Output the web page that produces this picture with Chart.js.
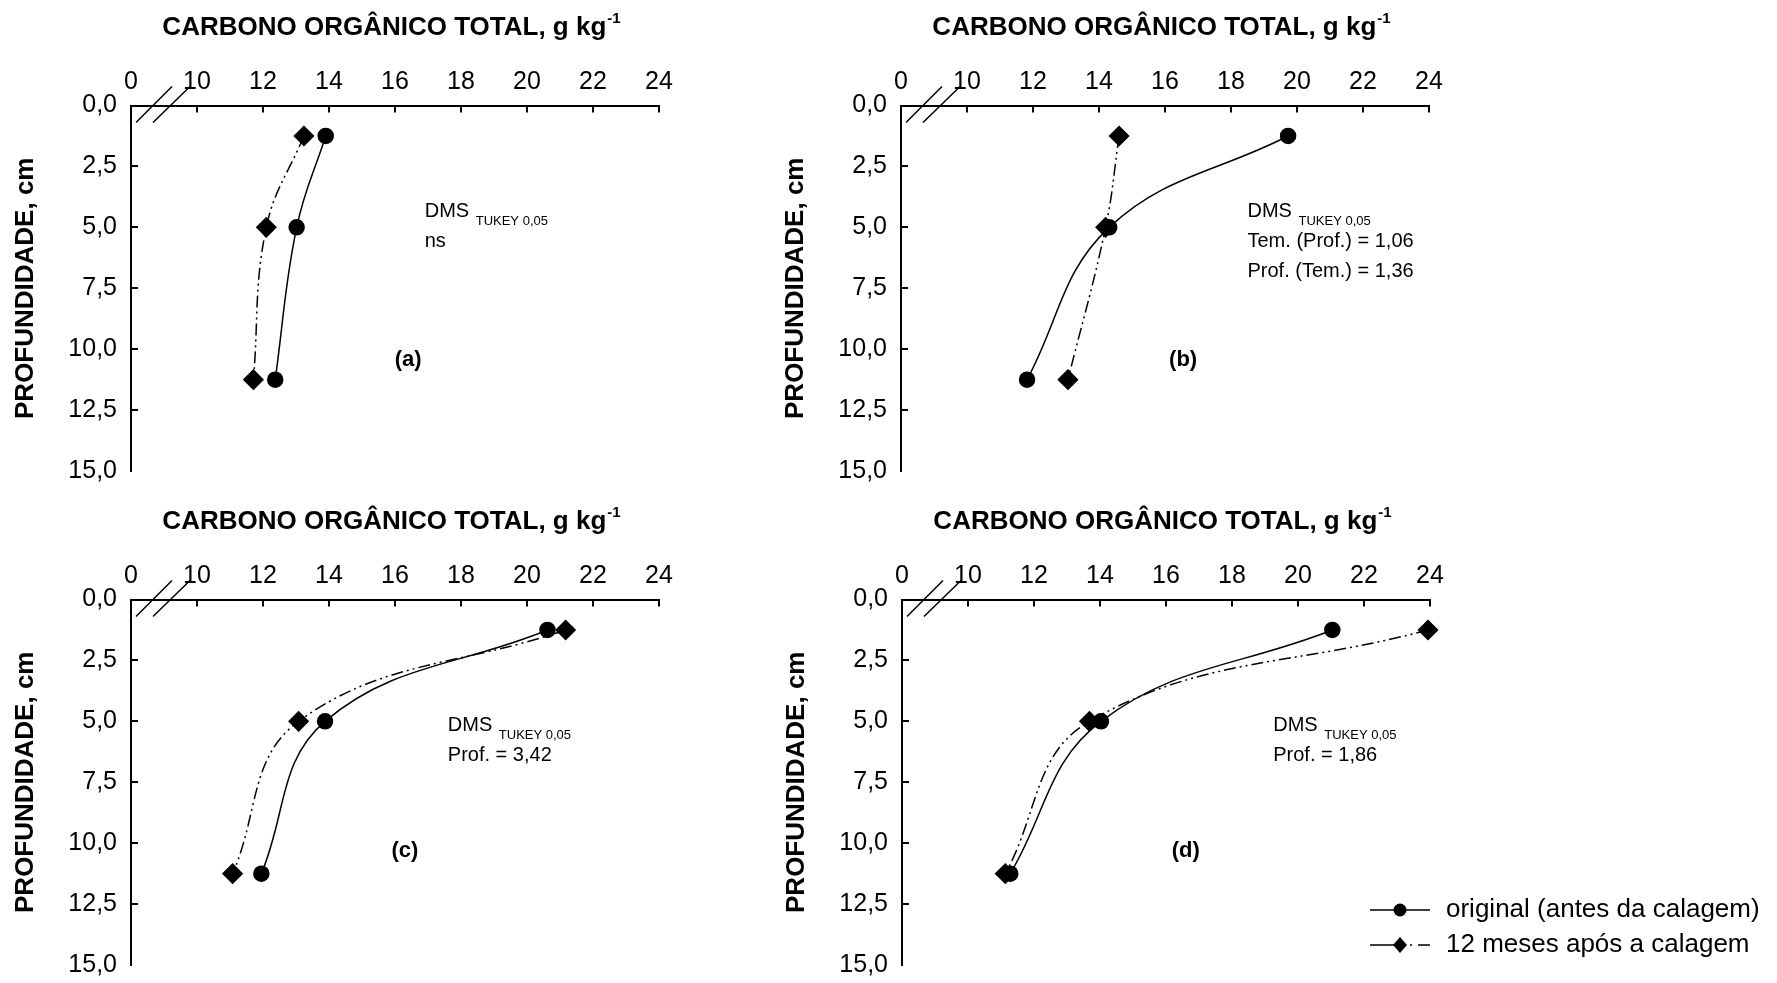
<!doctype html>
<html>
<head>
<meta charset="utf-8">
<title>Carbono orgânico total</title>
<script src="https://cdn.jsdelivr.net/npm/chart.js@4/dist/chart.umd.min.js"></script>
<style>
  html, body { margin: 0; padding: 0; background: #fff; overflow: hidden; }
  canvas { position: absolute; }
</style>
</head>
<body>
<canvas id="pa" width="888" height="500" style="left:0px;top:0px"></canvas>
<canvas id="pb" width="888" height="500" style="left:770px;top:0px"></canvas>
<canvas id="pc" width="888" height="500" style="left:0px;top:494px"></canvas>
<canvas id="pd" width="1006" height="500" style="left:771px;top:494px"></canvas>
<script>
// depth of each sample, cm
var depths = [1.25, 5.0, 11.25];

// carbono organico total, g kg-1
var originalA = [13.9, 13.02, 12.37];
var mesesA    = [13.24, 12.1, 11.71];
var originalB = [19.73, 14.31, 11.82];
var mesesB    = [14.61, 14.2, 13.06];
var originalC = [20.62, 13.88, 11.95];
var mesesC    = [21.17, 13.08, 11.08];
var originalD = [21.04, 14.03, 11.28];
var mesesD    = [23.94, 13.68, 11.13];

var seriesNames = ['original (antes da calagem)', '12 meses após a calagem'];
var xTickValues = [8, 10, 12, 14, 16, 18, 20, 22, 24]; // 8 is shown as the broken "0"
var titleText = 'CARBONO ORGÂNICO TOTAL, g kg';
var yTitle = 'PROFUNDIDADE, cm';

var notesA = ['ns'];
var notesB = ['Tem. (Prof.) = 1,06', 'Prof. (Tem.) = 1,36'];
var notesC = ['Prof. = 3,42'];
var notesD = ['Prof. = 1,86'];

var FONT = '"Liberation Sans", Arial, Helvetica, sans-serif';

function pts(xs) {
    return depths.map(function(d, i) { return {x: xs[i], y: d}; });
}

var decor = {
    id: 'decor',
    afterDraw: function(chart) {
        var ctx = chart.ctx;
        var a = chart.chartArea;
        var xs = chart.scales.x, ys = chart.scales.y;
        var cfg = chart.options.plugins.decor;
        ctx.save();
        ctx.strokeStyle = '#000';
        ctx.fillStyle = '#000';

        // inward tick marks
        ctx.lineWidth = 2;
        ctx.beginPath();
        xs.ticks.forEach(function(t, i) {
            if (i === 0) return;
            var px = Math.round(xs.getPixelForValue(t.value));
            ctx.moveTo(px, a.top); ctx.lineTo(px, a.top + 7);
        });
        ys.ticks.forEach(function(t, i) {
            if (i === 0) return;
            var py = Math.round(ys.getPixelForValue(t.value));
            ctx.moveTo(a.left, py); ctx.lineTo(a.left + 7, py);
        });
        ctx.stroke();

        // axis break
        ctx.lineWidth = 1.5;
        ctx.beginPath();
        ctx.moveTo(a.left + 5, a.top + 17); ctx.lineTo(a.left + 41, a.top - 19);
        ctx.moveTo(a.left + 22, a.top + 17); ctx.lineTo(a.left + 59, a.top - 19);
        ctx.stroke();

        // top title with superscript
        ctx.font = 'bold 26px ' + FONT;
        var w1 = ctx.measureText(titleText).width;
        ctx.font = 'bold 15px ' + FONT;
        var w2 = ctx.measureText('-1').width;
        var tx = (a.left + a.right) / 2 - 4 - (w1 + w2) / 2;
        var ty = a.top - 78;
        ctx.textBaseline = 'middle';
        ctx.textAlign = 'left';
        ctx.font = 'bold 26px ' + FONT;
        ctx.fillText(titleText, tx, ty);
        ctx.font = 'bold 15px ' + FONT;
        ctx.fillText('-1', tx + w1 + 1, ty - 9);

        // y axis title
        ctx.save();
        ctx.translate(a.left - 105, (a.top + a.bottom) / 2);
        ctx.rotate(-Math.PI / 2);
        ctx.textAlign = 'center';
        ctx.font = 'bold 26px ' + FONT;
        ctx.fillText(yTitle, 0, 0);
        ctx.restore();

        // DMS notes
        var nx = xs.getPixelForValue(cfg.noteAt[0]);
        var ny = ys.getPixelForValue(cfg.noteAt[1]);
        ctx.textAlign = 'left';
        ctx.font = '20px ' + FONT;
        ctx.fillText('DMS', nx, ny);
        var wd = ctx.measureText('DMS ').width;
        ctx.font = '13px ' + FONT;
        ctx.fillText('TUKEY 0,05', nx + wd + 1, ny + 10);
        ctx.font = '20px ' + FONT;
        cfg.notes.forEach(function(s, i) {
            ctx.fillText(s, nx, ny + 30 * (i + 1));
        });

        // panel letter
        ctx.textAlign = 'center';
        ctx.font = 'bold 22px ' + FONT;
        ctx.fillText(cfg.letter, xs.getPixelForValue(cfg.letterAt[0]), ys.getPixelForValue(cfg.letterAt[1]));

        // legend
        if (cfg.legend) {
            var lx = a.right;
            var ly1 = a.bottom - 55, ly2 = a.bottom - 20;
            ctx.lineWidth = 1.5;
            ctx.beginPath();
            ctx.moveTo(lx - 60, ly1); ctx.lineTo(lx, ly1);
            ctx.moveTo(lx - 60, ly2); ctx.lineTo(lx - 30, ly2);
            ctx.moveTo(lx - 20, ly2); ctx.lineTo(lx - 18, ly2);
            ctx.moveTo(lx - 12, ly2); ctx.lineTo(lx, ly2);
            ctx.stroke();
            ctx.beginPath();
            ctx.arc(lx - 30, ly1, 6.5, 0, Math.PI * 2);
            ctx.fill();
            ctx.beginPath();
            ctx.moveTo(lx - 30, ly2 - 8); ctx.lineTo(lx - 23, ly2);
            ctx.lineTo(lx - 30, ly2 + 8); ctx.lineTo(lx - 37, ly2);
            ctx.closePath();
            ctx.fill();
            ctx.textAlign = 'left';
            ctx.font = '26px ' + FONT;
            ctx.fillText(chart.data.datasets[0].label, lx + 16, ly1);
            ctx.fillText(chart.data.datasets[1].label, lx + 16, ly2);
        }
        ctx.restore();
    }
};

function makePanel(id, orig, meses, letter, notes, noteAt, letterAt, legend) {
    var canvas = document.getElementById(id);
    var tickFont = {size: 25, family: FONT};
    return new Chart(canvas.getContext('2d'), {
        type: 'line',
        data: {
            datasets: [
                {
                    label: seriesNames[0],
                    data: pts(orig),
                    borderColor: '#000',
                    borderWidth: 1.5,
                    pointStyle: 'circle',
                    pointRadius: 7.5,
                    pointBackgroundColor: '#000',
                    pointBorderColor: '#000',
                    tension: 0.4,
                    clip: false,
                    fill: false
                },
                {
                    label: seriesNames[1],
                    data: pts(meses),
                    borderColor: '#000',
                    borderWidth: 1.5,
                    borderDash: [12, 4, 2, 4, 2, 4],
                    pointStyle: 'rectRot',
                    pointRadius: 9.5,
                    pointBackgroundColor: '#000',
                    pointBorderColor: '#000',
                    tension: 0.4,
                    clip: false,
                    fill: false
                }
            ]
        },
        options: {
            responsive: false,
            animation: false,
            events: [],
            indexAxis: 'y',
            layout: {
                autoPadding: false,
                padding: {left: 0, top: 0, right: canvas.width - 659, bottom: canvas.height - 477}
            },
            scales: {
                x: {
                    type: 'linear',
                    position: 'top',
                    min: 8,
                    max: 24,
                    afterBuildTicks: function(s) {
                        s.ticks = xTickValues.map(function(v) { return {value: v}; });
                    },
                    afterFit: function(s) { s.height = 105.5; },
                    ticks: {
                        color: '#000',
                        font: tickFont,
                        padding: 8,
                        maxRotation: 0,
                        autoSkip: false,
                        callback: function(v) { return v === 8 ? '0' : String(v); }
                    },
                    grid: {display: false, drawTicks: false},
                    border: {display: true, color: '#000', width: 2}
                },
                y: {
                    type: 'linear',
                    position: 'left',
                    reverse: true,
                    min: 0,
                    max: 15,
                    afterFit: function(s) { s.width = 131; },
                    ticks: {
                        color: '#000',
                        font: tickFont,
                        stepSize: 2.5,
                        padding: 14,
                        autoSkip: false,
                        callback: function(v) { return v.toFixed(1).replace('.', ','); }
                    },
                    grid: {display: false, drawTicks: false},
                    border: {display: true, color: '#000', width: 2}
                }
            },
            plugins: {
                legend: {display: false},
                tooltip: {enabled: false},
                decor: {
                    letter: letter,
                    notes: notes,
                    noteAt: noteAt,
                    letterAt: letterAt,
                    legend: legend
                }
            }
        },
        plugins: [decor]
    });
}

makePanel('pa', originalA, mesesA, '(a)', notesA, [16.9, 4.35], [16.4, 10.45], false);
makePanel('pb', originalB, mesesB, '(b)', notesB, [18.5, 4.35], [16.55, 10.45], false);
makePanel('pc', originalC, mesesC, '(c)', notesC, [17.6, 5.15], [16.3, 10.3], false);
makePanel('pd', originalD, mesesD, '(d)', notesD, [19.25, 5.15], [16.6, 10.3], true);
</script>
</body>
</html>
